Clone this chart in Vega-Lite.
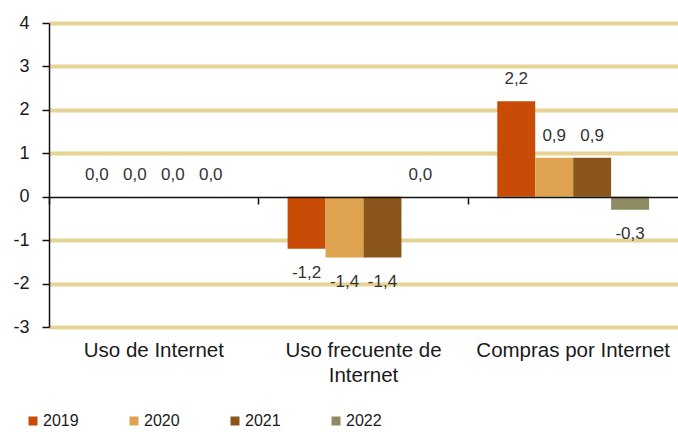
{
  "$schema": "https://vega.github.io/schema/vega-lite/v6.json",
  "width": 629,
  "height": 304,
  "autosize": {"type": "none"},
  "padding": {"left": 49, "top": 23, "right": 0, "bottom": 105},
  "config": {
    "locale": {"number": {"decimal": ",", "thousands": ".", "grouping": [3], "currency": ["", "€"], "minus": "-"}},
    "view": {"stroke": null},
    "font": "Liberation Sans"
  },
  "data": {
    "values": [
      {"categoria": "Uso de Internet", "anio": "2019", "valor": 0.0},
      {"categoria": "Uso de Internet", "anio": "2020", "valor": 0.0},
      {"categoria": "Uso de Internet", "anio": "2021", "valor": 0.0},
      {"categoria": "Uso de Internet", "anio": "2022", "valor": 0.0},
      {"categoria": "Uso frecuente de Internet", "anio": "2019", "valor": -1.2},
      {"categoria": "Uso frecuente de Internet", "anio": "2020", "valor": -1.4},
      {"categoria": "Uso frecuente de Internet", "anio": "2021", "valor": -1.4},
      {"categoria": "Uso frecuente de Internet", "anio": "2022", "valor": 0.0},
      {"categoria": "Compras por Internet", "anio": "2019", "valor": 2.2},
      {"categoria": "Compras por Internet", "anio": "2020", "valor": 0.9},
      {"categoria": "Compras por Internet", "anio": "2021", "valor": 0.9},
      {"categoria": "Compras por Internet", "anio": "2022", "valor": -0.3}
    ]
  },
  "layer": [
    {
      "mark": {"type": "bar"},
      "encoding": {
        "x": {
          "field": "categoria", "type": "nominal",
          "sort": ["Uso de Internet", "Uso frecuente de Internet", "Compras por Internet"],
          "scale": {"paddingInner": 0.276, "paddingOuter": 0.138},
          "axis": {
            "title": null, "labelAngle": 0, "domain": false, "ticks": false, "grid": false,
            "labelFontSize": 20.5, "labelColor": "#1a1a1a", "labelPadding": 13, "labelLineHeight": 25,
            "labelLimit": 0,
            "labelExpr": "datum.value == 'Uso frecuente de Internet' ? ['Uso frecuente de', 'Internet'] : datum.value"
          }
        },
        "xOffset": {"field": "anio", "type": "nominal", "scale": {"paddingInner": 0, "paddingOuter": 0}},
        "y": {
          "field": "valor", "type": "quantitative",
          "scale": {"domain": [-3, 4], "nice": false},
          "axis": {
            "title": null, "values": [-3, -2, -1, 0, 1, 2, 3, 4],
            "domainColor": "#111111", "domainWidth": 1.5,
            "tickColor": "#111111", "tickSize": 7, "tickWidth": 1.5,
            "labelPadding": 13, "labelFontSize": 18, "labelColor": "#1a1a1a",
            "grid": true, "gridColor": "#E6D395", "gridWidth": 4,
            "gridOpacity": {"condition": {"test": "datum.value === 0", "value": 0}, "value": 1}
          }
        },
        "color": {
          "field": "anio", "type": "nominal",
          "scale": {"domain": ["2019", "2020", "2021", "2022"], "range": ["#C84B06", "#DFA24F", "#8B561C", "#8E8B62"]},
          "legend": {
            "title": null, "orient": "none", "direction": "horizontal", "columns": 4,
            "legendX": -24, "legendY": 390,
            "symbolType": "square", "symbolSize": 81, "symbolStrokeWidth": 0,
            "labelFontSize": 16, "labelColor": "#1a1a1a", "labelOffset": 2, "columnPadding": 47
          }
        }
      }
    },
    {
      "transform": [{"filter": "datum.valor >= 0"}],
      "mark": {"type": "text", "baseline": "bottom", "dy": -13, "fontSize": 17, "color": "#333333"},
      "encoding": {
        "x": {
          "field": "categoria", "type": "nominal",
          "sort": ["Uso de Internet", "Uso frecuente de Internet", "Compras por Internet"],
          "axis": {
            "title": null, "labels": false, "grid": false, "orient": "bottom", "offset": -130,
            "domainColor": "#111111", "domainWidth": 1.5,
            "tickColor": "#111111", "tickSize": 7, "tickWidth": 1.5,
            "bandPosition": -0.1906, "zindex": 1
          }
        },
        "xOffset": {"field": "anio", "type": "nominal"},
        "y": {"field": "valor", "type": "quantitative", "axis": null},
        "text": {"field": "valor", "type": "quantitative", "format": ".1f"}
      }
    },
    {
      "transform": [{"filter": "datum.valor < 0"}],
      "mark": {"type": "text", "baseline": "top", "dy": 16, "fontSize": 17, "color": "#333333"},
      "encoding": {
        "x": {
          "field": "categoria", "type": "nominal",
          "sort": ["Uso de Internet", "Uso frecuente de Internet", "Compras por Internet"],
          "axis": null
        },
        "xOffset": {"field": "anio", "type": "nominal"},
        "y": {"field": "valor", "type": "quantitative", "axis": null},
        "text": {"field": "valor", "type": "quantitative", "format": ".1f"}
      }
    }
  ],
  "resolve": {"axis": {"x": "independent", "y": "independent"}}
}
